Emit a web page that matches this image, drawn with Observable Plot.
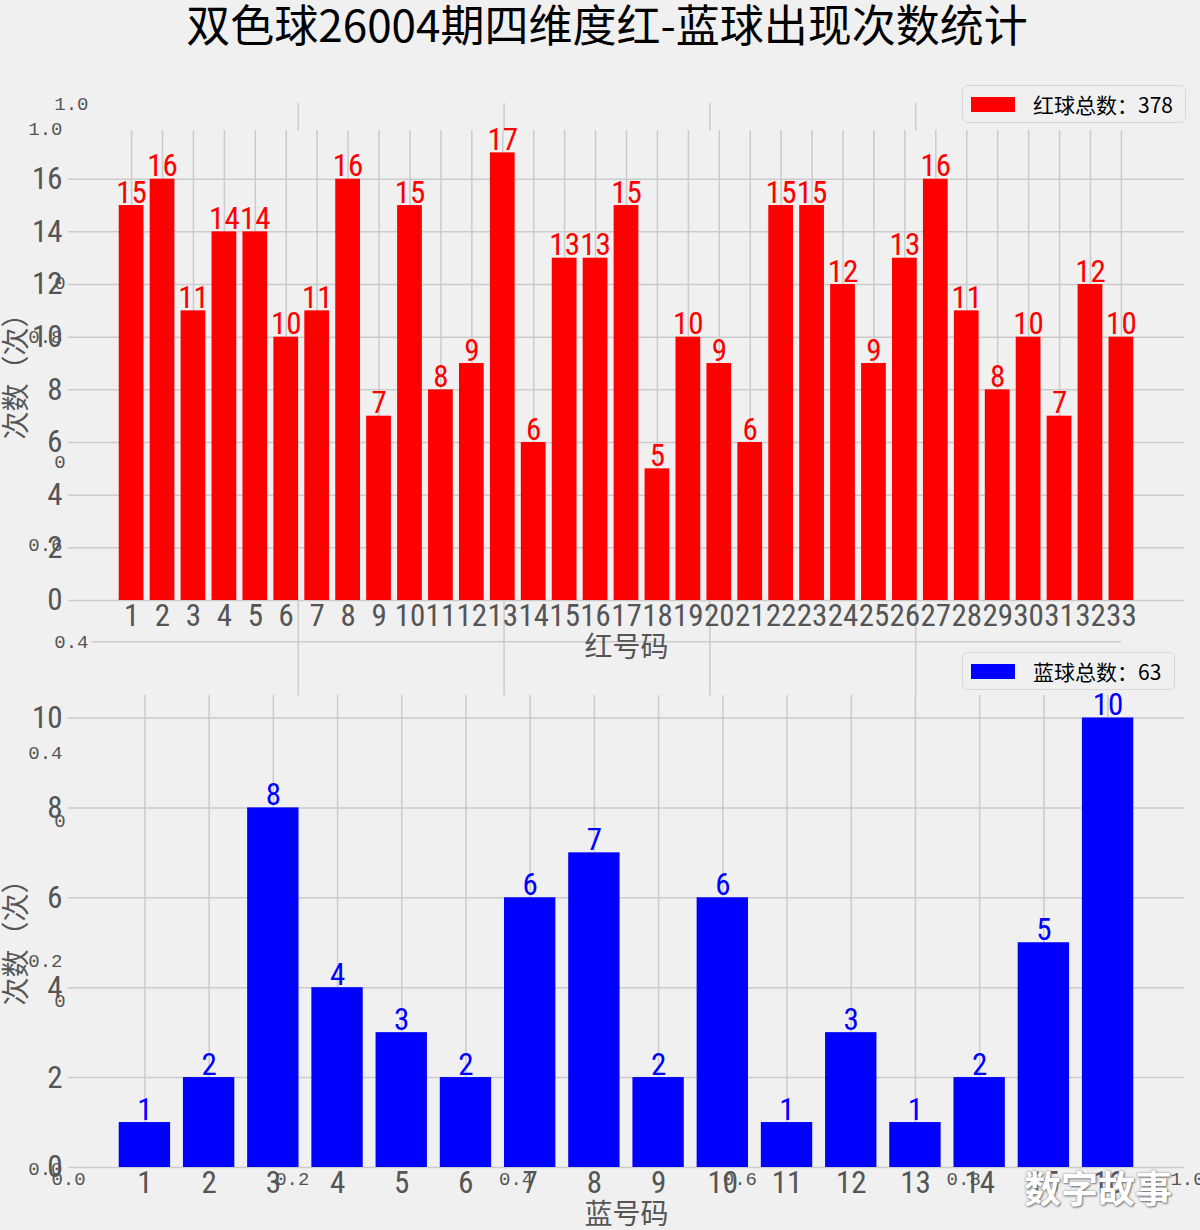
<!DOCTYPE html>
<html><head><meta charset="utf-8">
<script src="https://cdn.jsdelivr.net/npm/d3@7"></script>
<script src="https://cdn.jsdelivr.net/npm/@observablehq/plot@0.6"></script>
<style>
html,body{margin:0;padding:0;background:#f0f0f0;}
#wrap{position:relative;width:1200px;height:1230px;background:#f0f0f0;overflow:hidden;font-family:"Noto Sans CJK SC","Noto Sans",sans-serif;}
#wrap svg{position:absolute;left:0;top:0;}
.title{position:absolute;left:7px;top:-9px;width:1200px;text-align:center;font-size:44px;color:#000;white-space:nowrap;}
.legend{position:absolute;box-sizing:border-box;border:1.5px solid #d8d8d8;border-radius:5px;background:#f0f0f0;display:flex;align-items:center;font-size:21px;color:#000;}
.legend .sw{display:inline-block;width:44px;height:15px;margin-left:8px;margin-right:18px;}
.wm{position:absolute;left:1024px;top:1160px;font-size:37px;color:#fff;font-weight:700;white-space:nowrap;text-shadow:0 0 2px #777,1px 1px 2px #777;}
</style></head>
<body><div id="wrap"></div>
<script>
const titleText = "双色球26004期四维度红-蓝球出现次数统计";
const redNumbers = [1,2,3,4,5,6,7,8,9,10,11,12,13,14,15,16,17,18,19,20,21,22,23,24,25,26,27,28,29,30,31,32,33];
const redCounts = [15,16,11,14,14,10,11,16,7,15,8,9,17,6,13,13,15,5,10,9,6,15,15,12,9,13,16,11,8,10,7,12,10];
const blueNumbers = [1,2,3,4,5,6,7,8,9,10,11,12,13,14,15,16];
const blueCounts = [1,2,8,4,3,2,6,7,2,6,1,3,1,2,5,10];
const redYTicks = [0,2,4,6,8,10,12,14,16];
const blueYTicks = [0,2,4,6,8,10];
const phantomTicks = [0,0.2,0.4,0.6,0.8,1.0];
const phantomInner = [0.2,0.4,0.6,0.8];
const redXLabel = "红号码", blueXLabel = "蓝号码", yLabel = "次数（次）";
const redLegend = "红球总数：", blueLegend = "蓝球总数：";
const watermark = "数字故事";

const FONT = '"Noto Sans CJK SC","Noto Sans",sans-serif';
const NUMFONT = '"Liberation Sans Narrow","Roboto Condensed","Noto Sans CJK SC",sans-serif';
const PHFONT = '"Liberation Mono","DejaVu Sans Mono",monospace';
const GRID = "#cbcbcb", TICK = "#555";
const wrap = document.getElementById("wrap");
const base = {width:1200, height:1230, style:{background:"transparent", fontFamily:FONT, overflow:"visible"}};
const f1 = d3.format(".1f");

// phantom full-figure axes (background artefact)
const phA = Plot.plot({...base,
  marginLeft:68, marginRight:13, marginTop:128, marginBottom:62,
  x:{domain:[0,1], axis:null}, y:{domain:[0,1], axis:null},
  marks:[
    Plot.axisY(phantomTicks, {tickSize:0, tickPadding:6, fontSize:19, fontFamily:PHFONT, color:TICK, tickFormat:f1, label:null}),
    Plot.axisX(phantomTicks, {tickSize:0, tickPadding:3, fontSize:19, fontFamily:PHFONT, color:TICK, tickFormat:f1, label:null})
  ]});
wrap.appendChild(phA);

// phantom inner axes
const phB = Plot.plot({...base,
  marginLeft:92, marginRight:79, marginTop:103, marginBottom:230,
  x:{domain:[0,1], axis:null}, y:{domain:[0,1], axis:null},
  marks:[
    Plot.frame({fill:"#f0f0f0", stroke:null}),
    Plot.gridX(phantomInner, {stroke:GRID, strokeOpacity:1, strokeWidth:1.5}),
    Plot.gridY(phantomInner, {stroke:GRID, strokeOpacity:1, strokeWidth:1.5}),
    Plot.axisY(phantomTicks, {tickSize:0, tickPadding:4, fontSize:19, fontFamily:PHFONT, color:TICK, tickFormat:f1, label:null}),
    Plot.axisX(phantomTicks, {tickSize:0, tickPadding:3, fontSize:19, fontFamily:PHFONT, color:TICK, tickFormat:f1, label:null})
  ]});
wrap.appendChild(phB);

function barChart(nums, counts, color, yDomain, yTicks, xDomain, mt, mb, xLabel){
  const data = nums.map((n,i)=>({n, c:counts[i]}));
  return Plot.plot({...base,
    marginLeft:68, marginRight:16, marginTop:mt, marginBottom:mb,
    x:{type:"linear", domain:xDomain, axis:null},
    y:{domain:yDomain, axis:null},
    marks:[
      Plot.frame({fill:"#f0f0f0", stroke:null}),
      Plot.gridY(yTicks, {stroke:GRID, strokeOpacity:1, strokeWidth:1.5}),
      Plot.gridX(nums, {stroke:GRID, strokeOpacity:1, strokeWidth:1.5}),
      Plot.rectY(data, {x1:d=>d.n-0.4, x2:d=>d.n+0.4, y1:0, y2:"c", fill:color}),
      Plot.text(data, {x:"n", y:"c", text:d=>String(d.c), fill:color, fontSize:31, fontFamily:NUMFONT, lineAnchor:"bottom", dy:-3}),
      Plot.axisY(yTicks, {tickSize:0, tickPadding:6, fontSize:31, fontFamily:NUMFONT, color:TICK, label:null}),
      Plot.axisX(nums, {tickSize:0, tickPadding:3, fontSize:31, fontFamily:NUMFONT, color:TICK, label:null}),
      Plot.text([xLabel], {frameAnchor:"bottom", dy:48, fontSize:28, fill:TICK, lineAnchor:"middle", textAnchor:"middle"}),
      Plot.text([yLabel], {frameAnchor:"left", dx:-51, dy:4, rotate:-90, fontSize:28, fill:TICK, lineAnchor:"middle", textAnchor:"middle"})
    ]});
}
wrap.appendChild(barChart(redNumbers, redCounts, "red", [0,17.85], redYTicks, [-1.04,35.04], 130, 630, redXLabel));
wrap.appendChild(barChart(blueNumbers, blueCounts, "blue", [0,10.5], blueYTicks, [-0.19,17.19], 695, 63, blueXLabel));

function addDiv(cls, text, css){
  const d = document.createElement("div"); d.className = cls; if (text) d.textContent = text;
  Object.assign(d.style, css||{}); wrap.appendChild(d); return d;
}
addDiv("title", titleText);
function legend(left, top, w, color, label){
  const d = addDiv("legend", null, {left:left+"px", top:top+"px", width:w+"px", height:"38px"});
  const s = document.createElement("span"); s.className="sw"; s.style.background=color; d.appendChild(s);
  const t = document.createElement("span"); t.textContent = label; d.appendChild(t);
}
legend(962, 85, 224, "red", redLegend + d3.sum(redCounts));
legend(962, 652, 213, "blue", blueLegend + d3.sum(blueCounts));
addDiv("wm", watermark);
</script></body></html>
